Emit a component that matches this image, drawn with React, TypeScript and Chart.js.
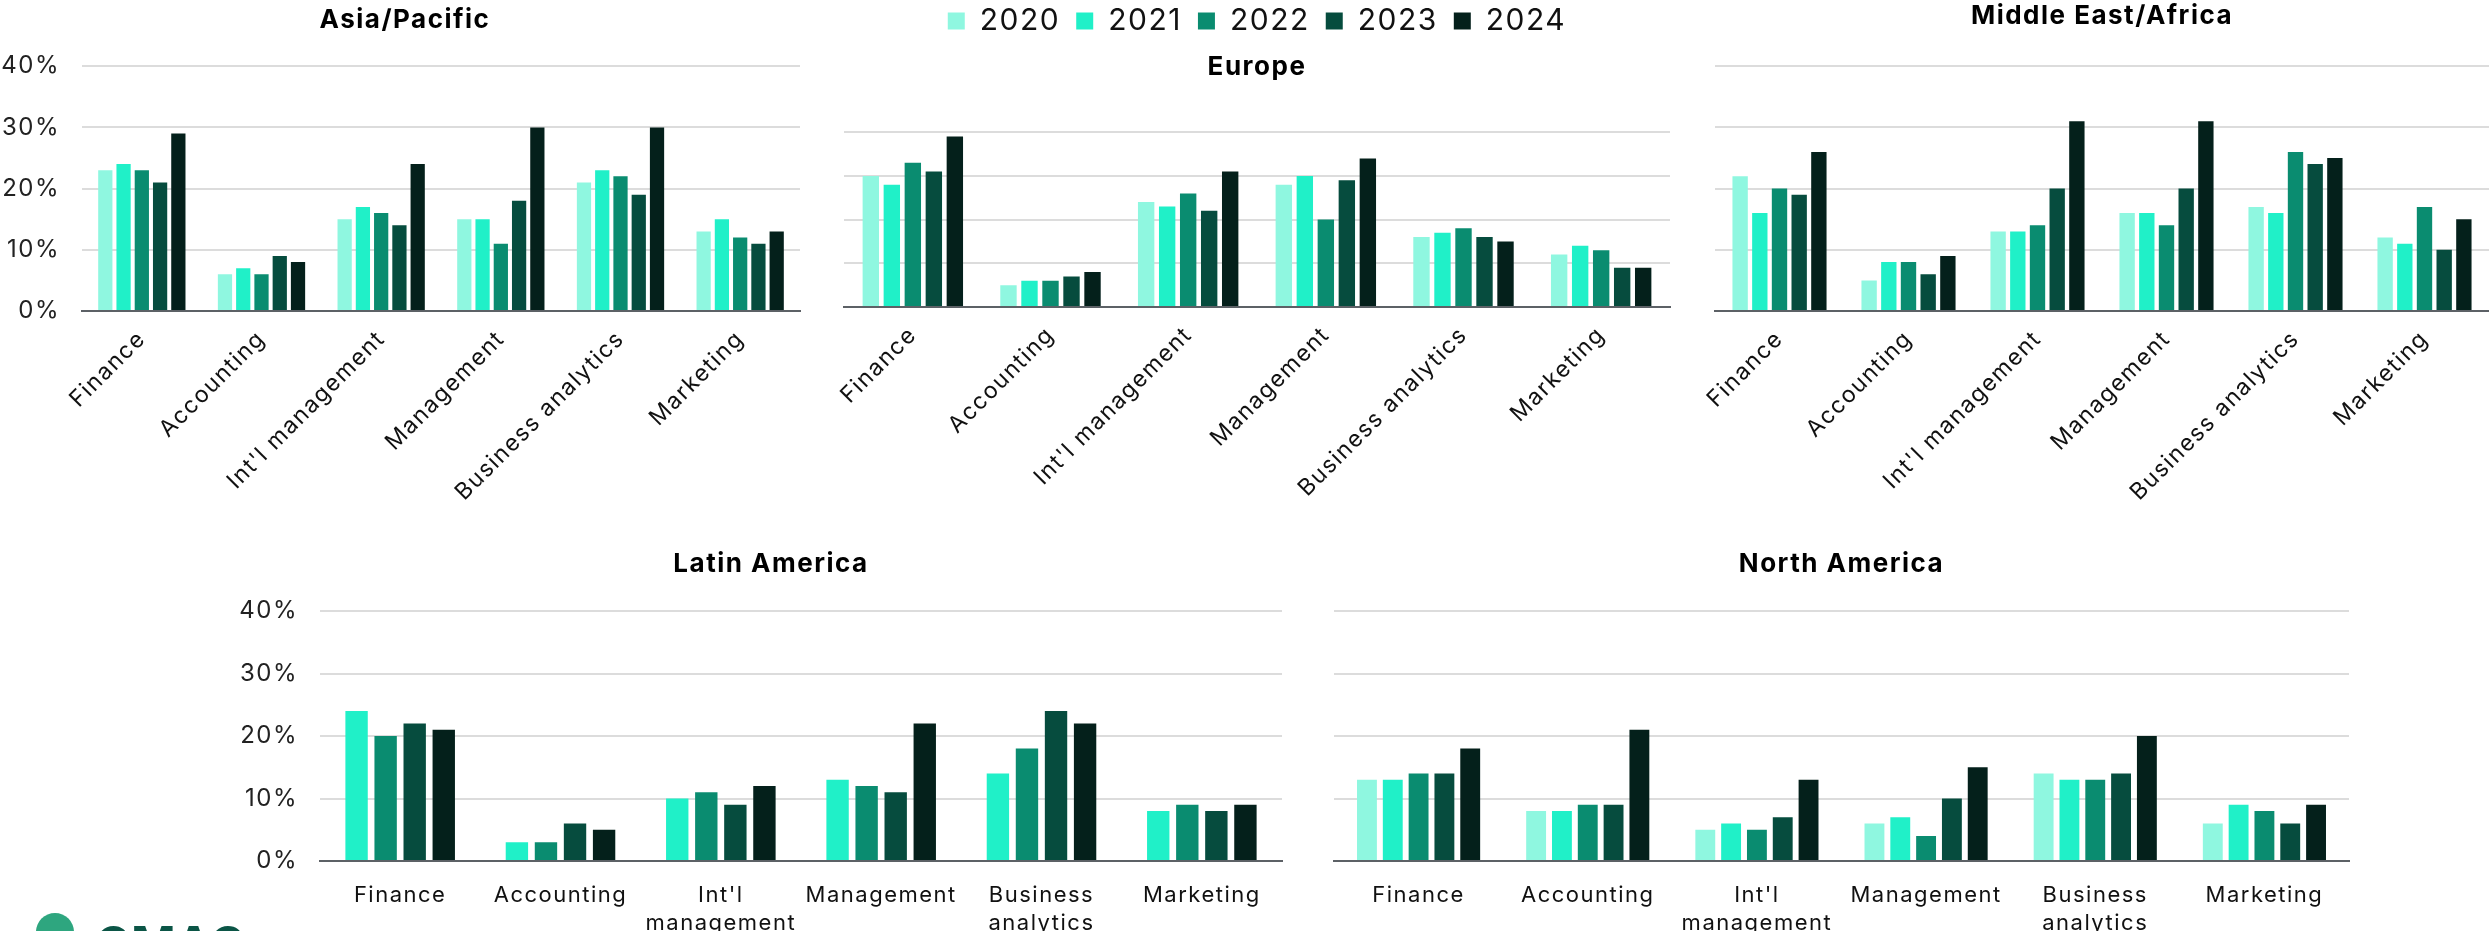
import React, { useEffect, useRef } from 'react';
import { Chart, registerables } from 'chart.js';

Chart.register(...registerables);

const FONT = 'Inter, "Noto Sans", Arial, sans-serif';
Chart.defaults.font.family = FONT;
Chart.defaults.color = '#111';

const years = ['2020', '2021', '2022', '2023', '2024'];
const yearColors = ['#8ff7e0', '#20f0c8', '#0a8c70', '#064c3e', '#04201b'];

const programmes = ['Finance', 'Accounting', "Int'l management", 'Management', 'Business analytics', 'Marketing'];
const programmesWrapped = [['Finance'], ['Accounting'], ["Int'l", 'management'], ['Management'], ['Business', 'analytics'], ['Marketing']];

const yTickValues = [0, 10, 20, 30, 40];

// share of programmes in %, one row per year (2020 ... 2024)
const asiaPacific = [
  [23, 6, 15, 15, 21, 13],
  [24, 7, 17, 15, 23, 15],
  [23, 6, 16, 11, 22, 12],
  [21, 9, 14, 18, 19, 11],
  [29, 8, 24, 30, 30, 13],
];
const europe = [
  [30, 5, 24, 28, 16, 12],
  [28, 6, 23, 30, 17, 14],
  [33, 6, 26, 20, 18, 13],
  [31, 7, 22, 29, 16, 9],
  [39, 8, 31, 34, 15, 9],
];
const middleEastAfrica = [
  [22, 5, 13, 16, 17, 12],
  [16, 8, 13, 16, 16, 11],
  [20, 8, 14, 14, 26, 17],
  [19, 6, 20, 20, 24, 10],
  [26, 9, 31, 31, 25, 15],
];
// no 2020 figures for Latin America
const latinAmerica = [
  [null, null, null, null, null, null],
  [24, 3, 10, 13, 14, 8],
  [20, 3, 11, 12, 18, 9],
  [22, 6, 9, 11, 24, 8],
  [21, 5, 12, 22, 22, 9],
];
const northAmerica = [
  [13, 8, 5, 6, 14, 6],
  [13, 8, 6, 7, 13, 9],
  [14, 9, 5, 4, 13, 8],
  [14, 9, 7, 10, 14, 6],
  [18, 21, 13, 15, 20, 9],
];

// the slide font is wider than Inter, so open the text up a little
const spacingPlugin = {
  id: 'letterSpacing',
  beforeUpdate(chart: any) {
    chart.ctx.letterSpacing = '1.5px';
  },
  beforeDraw(chart: any) {
    chart.ctx.letterSpacing = '1.5px';
  },
};

type PanelProps = {
  title: string;
  series: (number | null)[][];
  labels: (string | string[])[];
  left: number;
  top: number;
  width: number;
  height: number;
  axisLeft: number;
  axisRight: number;
  axisBottom: number;
  titleTop: number;
  titleBottom: number;
  yLabels: boolean;
  rotate: number;
  tickSize: number;
  tickPad: number;
  catPct: number;
  barPct: number;
  legend?: boolean;
};

function BarPanel(p: PanelProps) {
  const canvasRef = useRef<HTMLCanvasElement | null>(null);

  useEffect(() => {
    if (!canvasRef.current) return;
    const chart = new Chart(canvasRef.current, {
      type: 'bar',
      data: {
        labels: p.labels,
        datasets: p.series.map((data, i) => ({
          label: years[i],
          data,
          backgroundColor: yearColors[i],
          borderWidth: 0,
          categoryPercentage: p.catPct,
          barPercentage: p.barPct,
          skipNull: true,
        })),
      },
      plugins: [spacingPlugin],
      options: {
        animation: false,
        responsive: false,
        maintainAspectRatio: false,
        layout: { padding: 0 },
        plugins: {
          title: {
            display: true,
            text: p.title,
            color: '#000',
            font: { family: FONT, size: 26, weight: 'bold' },
            padding: { top: p.titleTop, bottom: p.titleBottom },
          },
          legend: p.legend
            ? {
                display: true,
                position: 'top',
                weight: 3000,
                labels: {
                  boxWidth: 17,
                  boxHeight: 17,
                  padding: 16,
                  color: '#111',
                  font: { family: FONT, size: 30 },
                },
              }
            : { display: false },
          tooltip: { enabled: false },
        },
        scales: {
          x: {
            grid: { display: false },
            border: { display: true, color: '#5c6166', width: 2 },
            ticks: {
              color: '#111',
              font: { family: FONT, size: p.tickSize, lineHeight: 1.25 },
              padding: p.tickPad,
              minRotation: p.rotate,
              maxRotation: p.rotate,
              autoSkip: false,
            },
            afterFit: (s: any) => {
              s.height = p.height - p.axisBottom;
            },
          },
          y: {
            min: yTickValues[0],
            max: yTickValues[yTickValues.length - 1],
            ticks: {
              display: p.yLabels,
              stepSize: yTickValues[1] - yTickValues[0],
              padding: 22,
              color: '#222',
              font: { family: FONT, size: 24 },
              callback: (v: any) => v + '%',
            },
            grid: { color: '#dcdcdc', lineWidth: 2, drawTicks: false },
            border: { display: false },
            afterFit: (s: any) => {
              s.width = p.axisLeft;
            },
          },
          yRight: {
            type: 'linear',
            position: 'right',
            display: true,
            grid: { display: false, drawTicks: false },
            ticks: { display: false },
            border: { display: false },
            afterFit: (s: any) => {
              s.width = p.axisRight;
            },
          },
        },
      } as any,
    });
    return () => chart.destroy();
  }, []);

  return (
    <canvas
      ref={canvasRef}
      width={p.width}
      height={p.height}
      style={{ position: 'absolute', left: p.left, top: p.top, width: p.width, height: p.height }}
    />
  );
}

const App: React.FC = () => {
  return (
    <div
      style={{
        position: 'absolute',
        left: 0,
        top: 0,
        width: 2489,
        height: 931,
        overflow: 'hidden',
        background: '#fff',
      }}
    >
      <BarPanel
        title="Asia/Pacific"
        series={asiaPacific}
        labels={programmes}
        left={0}
        top={0}
        width={810}
        height={500}
        axisLeft={82}
        axisRight={10}
        axisBottom={311}
        titleTop={5}
        titleBottom={30}
        yLabels={true}
        rotate={45}
        tickSize={23}
        tickPad={6}
        catPct={0.763}
        barPct={0.78}
      />
      <BarPanel
        title="Europe"
        series={europe}
        labels={programmes}
        left={824}
        top={-10}
        width={866}
        height={510}
        axisLeft={20}
        axisRight={20}
        axisBottom={317}
        titleTop={6}
        titleBottom={49}
        yLabels={false}
        rotate={45}
        tickSize={23}
        tickPad={6}
        catPct={0.763}
        barPct={0.78}
        legend={true}
      />
      <BarPanel
        title="Middle East/Africa"
        series={middleEastAfrica}
        labels={programmes}
        left={1690}
        top={0}
        width={824}
        height={500}
        axisLeft={25}
        axisRight={25}
        axisBottom={311}
        titleTop={1}
        titleBottom={34}
        yLabels={false}
        rotate={45}
        tickSize={23}
        tickPad={6}
        catPct={0.763}
        barPct={0.78}
      />
      <BarPanel
        title="Latin America"
        series={latinAmerica}
        labels={programmesWrapped}
        left={240}
        top={520}
        width={1062}
        height={411}
        axisLeft={80}
        axisRight={20}
        axisBottom={341}
        titleTop={29}
        titleBottom={31}
        yLabels={true}
        rotate={0}
        tickSize={22}
        tickPad={13}
        catPct={0.725}
        barPct={0.77}
      />
      <BarPanel
        title="North America"
        series={northAmerica}
        labels={programmesWrapped}
        left={1324}
        top={520}
        width={1035}
        height={411}
        axisLeft={10}
        axisRight={10}
        axisBottom={341}
        titleTop={29}
        titleBottom={31}
        yLabels={false}
        rotate={0}
        tickSize={22}
        tickPad={13}
        catPct={0.763}
        barPct={0.77}
      />
      {/* logo, cut off by the bottom edge */}
      <div
        style={{
          position: 'absolute',
          left: 36,
          top: 913,
          width: 38,
          height: 38,
          borderRadius: '50%',
          background: '#2ea67f',
        }}
      />
      <div
        style={{
          position: 'absolute',
          left: 95,
          top: 920,
          fontFamily: FONT,
          fontWeight: 700,
          fontSize: 48,
          lineHeight: 1,
          color: '#0b5546',
        }}
      >
        GMAC
      </div>
    </div>
  );
};

export default App;
